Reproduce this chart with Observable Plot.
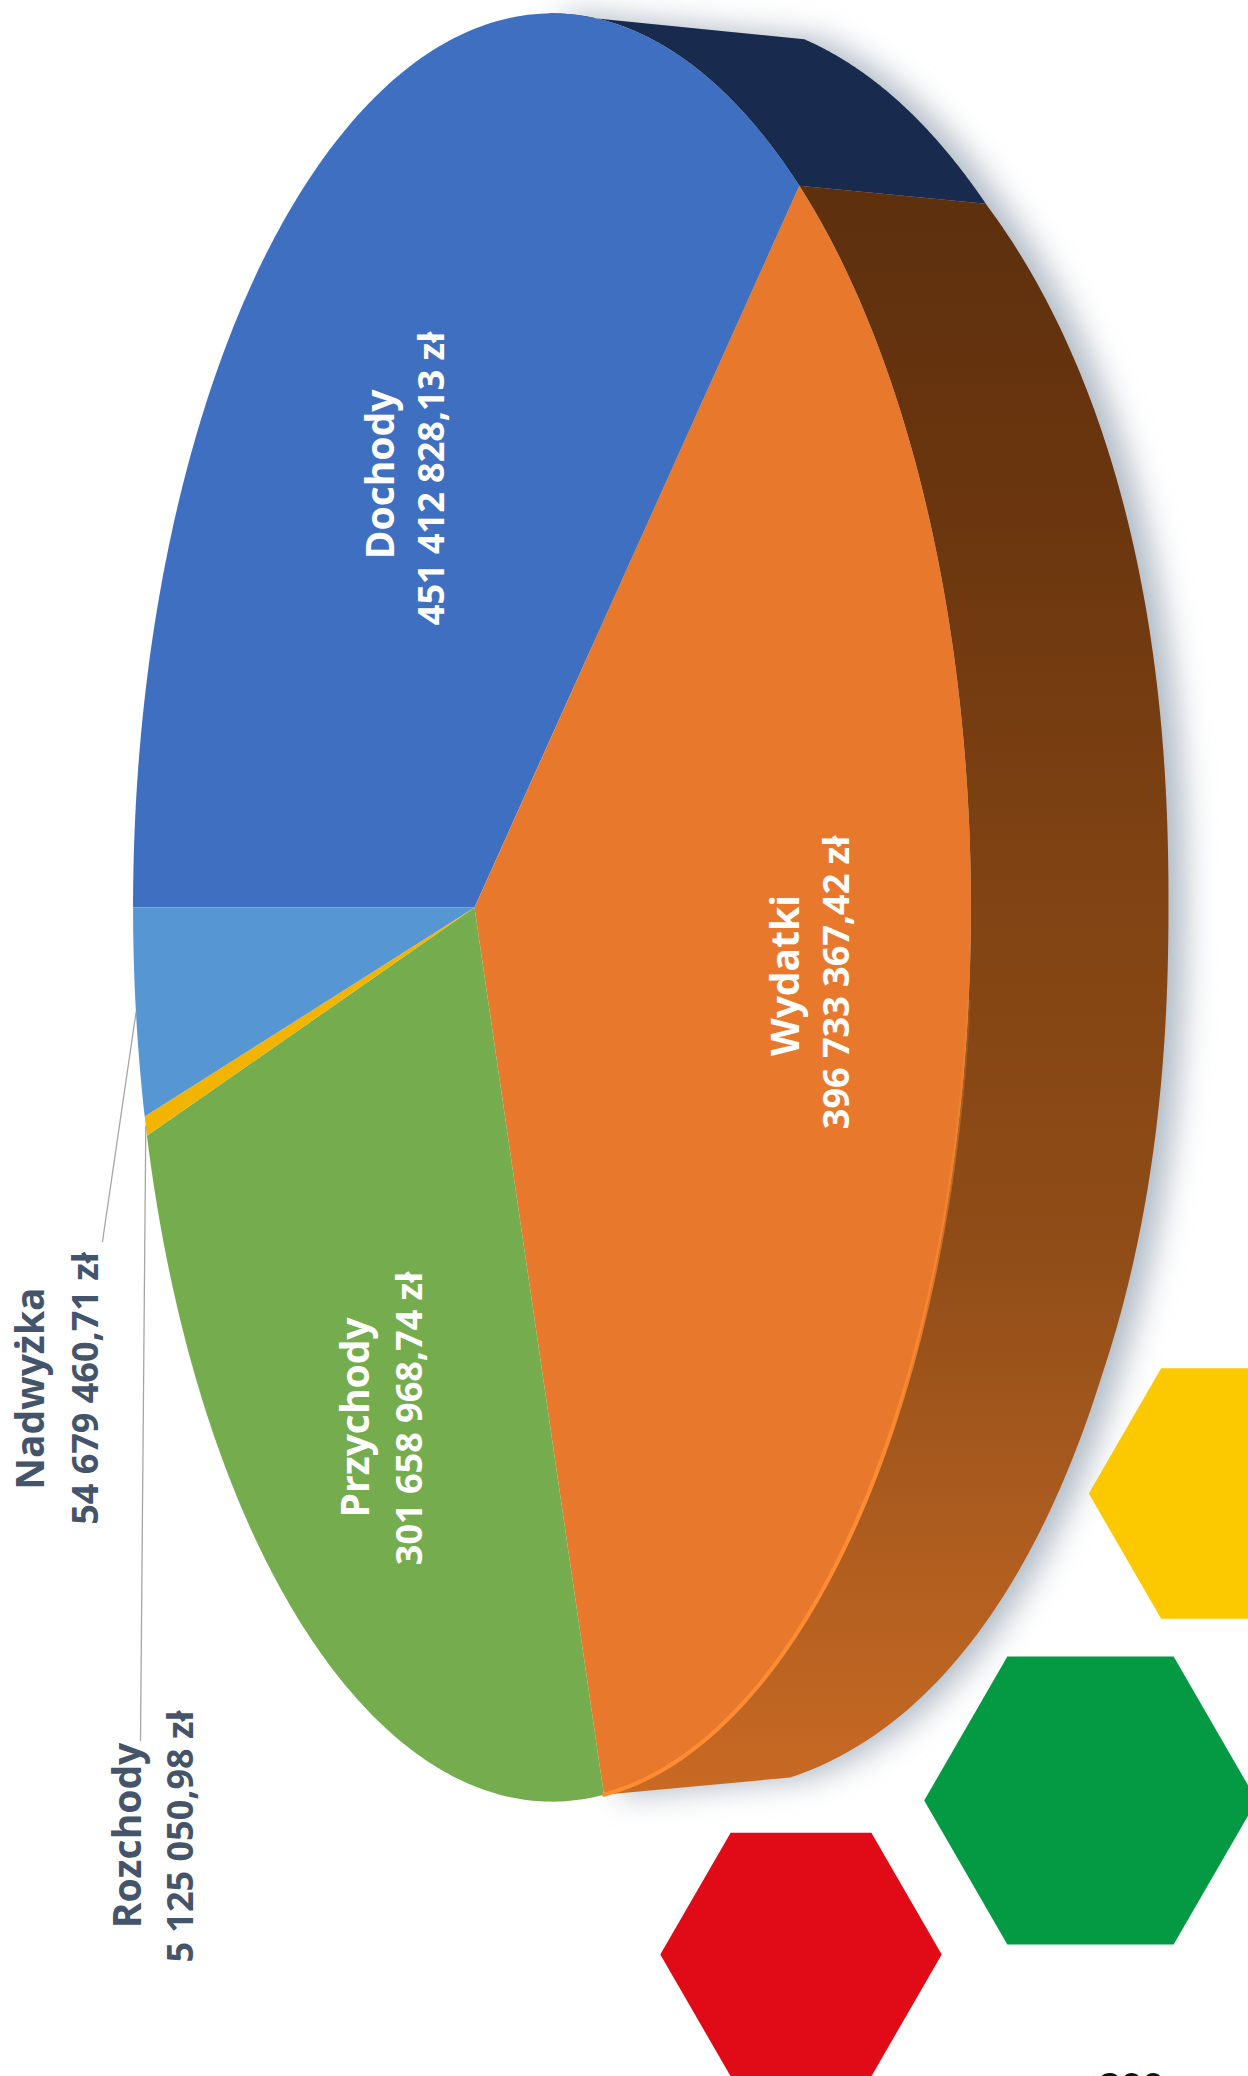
<!DOCTYPE html>
<html><head><meta charset="utf-8">
<script src="https://cdn.jsdelivr.net/npm/d3@7"></script>
<script src="https://cdn.jsdelivr.net/npm/@observablehq/plot@0.6"></script>
<style>html,body{margin:0;padding:0;background:#fff}svg{display:block}</style>
</head><body><div id="chart"></div>
<script>
const categories = ["Dochody","Wydatki","Przychody","Rozchody","Nadwyżka"];
const values = [451412828.13, 396733367.42, 301658968.74, 5125050.98, 54679460.71];
const amountLabels = ["451 412 828,13 zł","396 733 367,42 zł","301 658 968,74 zł","5 125 050,98 zł","54 679 460,71 zł"];
const sliceColors = ["#3f6fc0","#e8792c","#74ac4e","#f3b400","#5596d3"];
const labelColors = ["#fff","#fff","#fff","#44546a","#44546a"];
const labelTitleX = [393,798,368,140,43];
const labelTitleY = [474,975,1417,1835,1388];
const labelValueX = [443,848,421,192,97];
const labelValueY = [478,982,1418,1836,1388];
const hexX = [1233,1090,800.5], hexY = [1493,1800,1954], hexR = [144.7,166.3,140.7];
const hexColors = ["#fcc900","#049a43","#e10a17"];
const pageNumber = "200";

// Perspective view of the pie's top face
const W=1248,H=2076, cx=474, cy=907, A=404.6, C=878.7, K=-0.185;
const rim = deg => { const t=deg*Math.PI/180,u=Math.cos(t),v=Math.sin(t),d=1+K*u; return {x:cx+A*u/d,y:cy-C*v/d}; };
const arcPts = (a,b,n=160) => d3.range(n+1).map(i=>rim(a+(b-a)*i/n));
// Outline of the pie's lower edge
const OX=620,OY=903,OA=548,OB=889,OP=2/2.2;
const outer = deg => { const t=deg*Math.PI/180,c=Math.cos(t),s=Math.sin(t);
  let bump=0;
  if(deg>50&&deg<90) bump=-13*Math.sin(Math.PI*(deg-50)/40);
  if(deg<-30&&deg>-90) bump=22*Math.sin(Math.PI*(deg+30)/-60);
  return {x:OX+OA*Math.sign(c)*Math.abs(c)**OP, y:OY-OB*Math.sign(s)*Math.abs(s)**OP+bump}; };
const outerPts = (a,b,n=160) => d3.range(n+1).map(i=>outer(a+(b-a)*i/n));

// slices run clockwise from the left
const total=d3.sum(values);
let acc=180;
const slices=categories.map((name,i)=>{const sweep=values[i]/total*360;const s={name,i,a0:acc,a1:acc-sweep,mid:acc-sweep/2};acc-=sweep;return s;});
const slicePoly=s=>[{x:cx,y:cy},...arcPts(s.a0,s.a1)].map(p=>({...p,name:s.name,i:s.i}));
const seam=slices[0].a1, wallEnd=slices[1].a1;
const rimTop=80;             // where the wall leaves the top face
const seamOuter=50.2;        // outer parameter at the seam
const wallNavy=[...arcPts(rimTop,seam),...outerPts(seamOuter,72.5)];
const wallBrown=[...arcPts(seam,wallEnd),...outerPts(-74,seamOuter)];
const shadowPts=[rim(rimTop),...outerPts(72.5,-74,300),rim(wallEnd)];

const rimHighlight=arcPts(-5,wallEnd);
const callouts=[
  {i:3,from:rim(slices[3].mid),to:{x:140,y:1740}},
  {i:4,from:rim(slices[4].mid),to:{x:102,y:1241}}
];
const calloutPts=callouts.flatMap(c=>[{...c.from,i:c.i},{...c.to,i:c.i}]);
const hexSymbol={draw(ctx,size){const r=Math.sqrt(size/Math.PI);
  d3.range(6).forEach(k=>{const t=k*Math.PI/3,x=r*Math.cos(t),y=r*Math.sin(t);k?ctx.lineTo(x,y):ctx.moveTo(x,y);});ctx.closePath();}};

const defs=()=>{const s=d3.create("svg:defs");
  const g=s.append("linearGradient").attr("id","wallGrad").attr("gradientUnits","userSpaceOnUse").attr("x1",0).attr("x2",0).attr("y1",200).attr("y2",1800);
  [[0,"#5e300e"],[.2,"#6b360f"],[.45,"#824413"],[.65,"#8f4c17"],[.8,"#a85a1e"],[1,"#c96a24"]].forEach(([o,c])=>g.append("stop").attr("offset",o).attr("stop-color",c));
  const h=s.append("linearGradient").attr("id","rimGrad").attr("gradientUnits","userSpaceOnUse").attr("x1",0).attr("x2",0).attr("y1",900).attr("y2",1500);
  h.append("stop").attr("offset",0).attr("stop-color","#ff8c33").attr("stop-opacity",0);
  h.append("stop").attr("offset",1).attr("stop-color","#ff8c33").attr("stop-opacity",1);
  return s.node();};

const font="'Open Sans'";
const plot=Plot.plot({width:W,height:H,margin:0,
  x:{domain:[0,W],range:[0,W],axis:null},
  y:{domain:[0,H],range:[0,H],axis:null},
  marks:[
    defs,
    Plot.line(shadowPts,{x:"x",y:"y",fill:"#77879a",fillOpacity:.6,stroke:"none",dx:16,imageFilter:"blur(16px)"}),
    Plot.line(wallNavy,{x:"x",y:"y",fill:"#182a4e",stroke:"none",curve:"linear"}),
    Plot.line(wallBrown,{x:"x",y:"y",fill:"url(#wallGrad)",stroke:"none",curve:"linear"}),
    ...slices.map(s=>Plot.line(slicePoly(s),{x:"x",y:"y",fill:sliceColors[s.i],stroke:"none",curve:"linear"})),
    Plot.line(rimHighlight,{x:"x",y:"y",stroke:"url(#rimGrad)",strokeWidth:4}),
    Plot.line(calloutPts,{x:"x",y:"y",z:"i",stroke:"#a6a6a6",strokeWidth:1.3}),
    ...hexX.map((x,i)=>Plot.dot([{x,y:hexY[i]}],{x:"x",y:"y",r:hexR[i],symbol:hexSymbol,fill:hexColors[i],stroke:"none"})),
    Plot.text(categories,{x:(d,i)=>labelTitleX[i],y:(d,i)=>labelTitleY[i],text:d=>d,rotate:-90,textAnchor:"middle",lineAnchor:"bottom",fontFamily:font,fontWeight:700,fontSize:39,fill:(d,i)=>labelColors[i]}),
    Plot.text(amountLabels,{x:(d,i)=>labelValueX[i],y:(d,i)=>labelValueY[i],text:d=>d,rotate:-90,textAnchor:"middle",lineAnchor:"bottom",fontFamily:font,fontWeight:700,fontSize:36,fill:(d,i)=>labelColors[i]}),
    Plot.text([pageNumber],{x:()=>1131,y:()=>2073,text:d=>d,textAnchor:"middle",lineAnchor:"top",fontFamily:font,fontWeight:700,fontSize:38,fill:"#111"})
  ]});
document.getElementById("chart").append(plot);
</script></body></html>
